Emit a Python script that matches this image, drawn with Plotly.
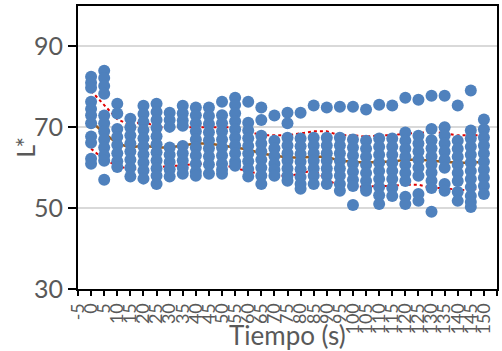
import plotly.graph_objects as go

times = list(range(0, 155, 5))

l_points = [
    [82.5, 81, 79.8, 76.3, 74.5, 73, 71, 67.7, 66.2, 62.2, 61],          # 0
    [84, 82.2, 80.2, 78.3, 72.9, 71, 69, 67, 65, 63, 61.7, 57],          # 5
    [75.8, 73.4, 69.6, 67.6, 65.6, 63.6, 61.6, 60.2],                    # 10
    [72.1, 70, 68, 66, 64, 62, 60, 57.8],                                # 15
    [75.3, 73.3, 71.3, 69.3, 67.3, 65.3, 63.3, 61.3, 59.3, 57.3],        # 20
    [75.8, 73.8, 71.8, 69.8, 67.8, 65.8, 63.8, 61.8, 59.8, 58, 56],      # 25
    [73.6, 71.8, 70.1, 65, 63.2, 61.4, 59.6, 57.8],                      # 30
    [75.3, 73.5, 71.7, 70.4, 65.4, 63.6, 61.8, 60, 58.5],                # 35
    [74.9, 73, 71, 69, 67, 65, 63, 61, 59, 58],                          # 40
    [74.9, 72.8, 70.8, 68.8, 66.8, 64.8, 62.8, 60.8, 58.5],              # 45
    [76.3, 73, 71, 69, 67, 65, 63, 61, 59.5, 58.5],                      # 50
    [77.3, 75.5, 73.5, 71.5, 69.5, 67.5, 65.5, 63.5, 61.5, 60.5],        # 55
    [76.3, 71.1, 69.2, 67.3, 65.4, 63.5, 61.6, 59.7, 57.8],              # 60
    [74.9, 71.8, 67.9, 66, 64, 62, 60, 58, 56],                          # 65
    [72.9, 66.7, 64.8, 62.9, 61, 59.5, 58],                              # 70
    [73.6, 71, 67.4, 65.5, 63.6, 61.7, 59.8, 58, 56.8],                  # 75
    [73.6, 67.2, 65.3, 63.4, 61.5, 59.6, 57.7, 56, 54.8],                # 80
    [75.4, 67.4, 65.5, 63.6, 61.7, 59.8, 58, 56],                        # 85
    [74.9, 67.4, 65.5, 63.6, 61.7, 59.8, 58, 56],                        # 90
    [75.1, 67.4, 65.5, 63.6, 61.7, 59.8, 58, 56, 54.3],                  # 95
    [75.1, 67, 65, 63, 61, 59, 57, 55.5, 50.8],                          # 100
    [74.4, 66.7, 64.7, 62.7, 60.7, 58.7, 56.7, 55, 54.3],                # 105
    [75.6, 67.2, 65.2, 63.2, 61.2, 59.2, 57.2, 55.2, 53.2, 51],          # 110
    [75.4, 67.2, 65.2, 63.2, 61.2, 59.2, 57.2, 55, 53],                  # 115
    [77.3, 68.7, 66.7, 64.7, 62.7, 60.7, 58.7, 56.7, 52.8, 51],          # 120
    [76.8, 67.9, 66, 64, 62, 60, 58, 53.5, 51.8],                        # 125
    [77.8, 69.6, 66.8, 64.8, 62.8, 60.8, 58.8, 56.8, 55, 49.1],          # 130
    [77.8, 70, 68, 66, 64, 62, 60, 56, 54.3],                            # 135
    [75.4, 66.7, 64.7, 62.7, 60.7, 58.7, 56.7, 54, 51.8],                # 140
    [79.1, 69.2, 67.2, 65.2, 63.2, 61.2, 59.2, 57.2, 55.2, 53, 51.5, 50.3],  # 145
    [71.9, 69.5, 67.5, 65.5, 63.5, 61.5, 59.5, 57.5, 55.5, 53.5],        # 150
]

mean_line = [71.5, 68.5, 66, 65, 65.5, 65, 65, 65.5, 66, 66, 65.5, 65, 64.5, 63.5, 63, 62.5,
             62.5, 62.7, 62.7, 61.7, 61.5, 61.2, 61.5, 61.5, 62, 62, 61.7, 61.5, 61.2, 61.2, 61.5]
upper_line = [79, 75.5, 72, 70.5, 71.5, 70, 70, 70, 70, 70, 70, 70, 69, 68, 68, 68,
              68.5, 69, 69, 68, 68, 67.7, 68, 68, 68.5, 68.5, 69, 68.5, 68, 68, 68]
lower_line = [64.7, 62, 60.5, 59.5, 60, 60, 60.5, 60.5, 61, 61, 60.7, 60, 59, 58.5, 58, 58,
              58.5, 59.5, 57, 55.5, 55.3, 55.3, 55.5, 55.5, 55.8, 55.8, 55, 55, 54.5, 54.5, 55]

x_ticks = list(range(-5, 160, 5))
y_ticks = [30, 50, 70, 90]

px_x = []
px_y = []
for t, vals in zip(times, l_points):
    for v in vals:
        px_x.append(t)
        px_y.append(v)

fig = go.Figure()
fig.add_trace(go.Scatter(x=times, y=mean_line, mode="lines",
                         line=dict(color="#9A5B1E", width=2.5), showlegend=False))
fig.add_trace(go.Scatter(x=times, y=upper_line, mode="lines",
                         line=dict(color="#E00000", width=2, dash="dot"), showlegend=False))
fig.add_trace(go.Scatter(x=times, y=lower_line, mode="lines",
                         line=dict(color="#E00000", width=2, dash="dot"), showlegend=False))
fig.add_trace(go.Scatter(x=px_x, y=px_y, mode="markers",
                         marker=dict(color="#4F81BD", size=12, line=dict(width=0)),
                         showlegend=False))

font_family = "Lato, 'Open Sans', sans-serif"
fig.update_layout(
    width=502, height=351,
    margin=dict(l=78, r=5, t=6, b=62),
    paper_bgcolor="white", plot_bgcolor="white",
    font=dict(family=font_family, color="#595959"),
    xaxis=dict(range=[-5, 155], tickvals=x_ticks, ticktext=[str(v) for v in x_ticks],
               tickangle=-90, tickfont=dict(size=18, color="#595959"),
               showline=True, linecolor="black", linewidth=2, mirror=True,
               ticks="outside", ticklen=5, tickcolor="black", tickwidth=1.5,
               showgrid=False, zeroline=False, automargin=False),
    yaxis=dict(range=[30, 100], tickvals=y_ticks,
               tickfont=dict(size=25, color="#595959"),
               showline=True, linecolor="black", linewidth=2, mirror=True,
               ticks="outside", ticklen=8, tickcolor="black", tickwidth=2,
               showgrid=True, gridcolor="#D9D9D9", gridwidth=1.5,
               zeroline=False, automargin=False),
    annotations=[
        dict(text="Tiempo (s)", xref="paper", yref="paper", x=0.5, y=-0.1,
             xanchor="center", yanchor="top", showarrow=False,
             font=dict(size=26, color="#595959", family=font_family)),
        dict(text="L*", xref="paper", yref="paper", x=-0.128, y=0.5,
             xanchor="center", yanchor="middle", textangle=-90, showarrow=False,
             font=dict(size=25, color="#595959", family=font_family)),
    ],
)

fig.write_html("out.html")
